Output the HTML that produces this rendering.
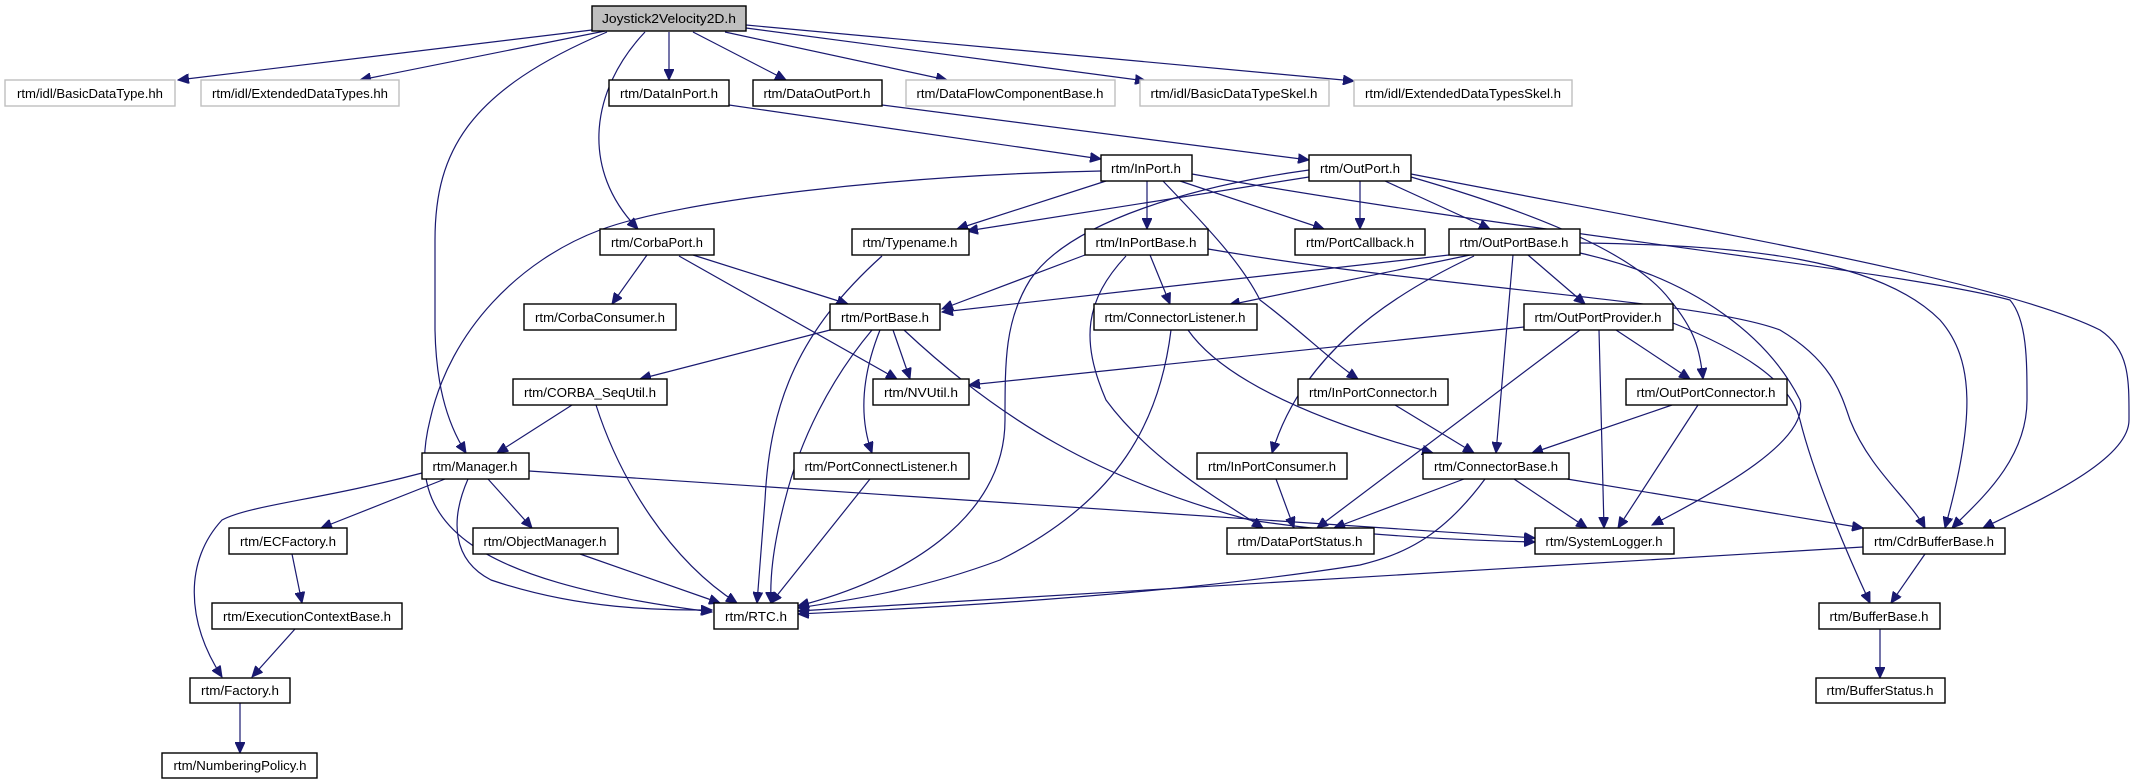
<!DOCTYPE html>
<html><head><meta charset="utf-8"><style>
html,body{margin:0;padding:0;background:#fff;width:2135px;height:784px;overflow:hidden}
svg{display:block}
text{font-family:"Liberation Sans",sans-serif;font-size:13px;fill:#000}
.e{fill:none;stroke:#191970;stroke-width:1.2}
</style></head><body>
<svg width="2135" height="784" viewBox="0 0 2135 784" xmlns="http://www.w3.org/2000/svg">
<defs><marker id="a" markerUnits="userSpaceOnUse" markerWidth="12" markerHeight="10" refX="11" refY="5" orient="auto"><path d="M0,0 L11,5 L0,10 z" fill="#191970" stroke="#191970"/></marker></defs>
<g marker-end="url(#a)">
<path class="e" d="M592,30 L178,80"/>
<path class="e" d="M605,31 L360,80"/>
<path class="e" d="M607,32 C470,90 435,150 435,240 L435,330 C436,380 445,420 466,453"/>
<path class="e" d="M645,32 C590,90 580,170 638,229"/>
<path class="e" d="M669,32 L669,80"/>
<path class="e" d="M693,32 L786,80"/>
<path class="e" d="M725,32 L947,80"/>
<path class="e" d="M746,28 L1146,81"/>
<path class="e" d="M746,25 L1354,81"/>
<path class="e" d="M729,105 L1101,159"/>
<path class="e" d="M882,105 L1309,160"/>
<path class="e" d="M1101,171 C900,175 680,200 600,230 C520,260 450,330 430,420 C405,520 460,580 712,612"/>
<path class="e" d="M1106,181 L957,229"/>
<path class="e" d="M1147,181 L1147,229"/>
<path class="e" d="M1180,181 L1324,229"/>
<path class="e" d="M1163,181 C1200,220 1240,260 1260,300 C1300,330 1330,360 1358,379"/>
<path class="e" d="M1192,174 C1500,230 1900,270 2010,300 C2027,320 2027,360 2027,400 C2027,460 1980,500 1952,528"/>
<path class="e" d="M1309,177 L967,231"/>
<path class="e" d="M1309,170 C1200,185 1070,220 1030,280 C1005,320 1005,360 1005,420 C1005,520 900,580 798,606"/>
<path class="e" d="M1360,181 L1360,229"/>
<path class="e" d="M1385,181 L1490,229"/>
<path class="e" d="M1411,177 C1560,220 1640,260 1670,300 C1695,330 1700,350 1703,379"/>
<path class="e" d="M1411,174 C1700,230 2000,280 2100,330 C2130,350 2129,380 2129,420 C2129,460 2040,500 1983,528"/>
<path class="e" d="M1085,255 L942,309"/>
<path class="e" d="M1150,255 L1170,304"/>
<path class="e" d="M1126,256 C1085,300 1080,340 1106,400 C1150,460 1220,500 1263,528"/>
<path class="e" d="M1208,249 C1450,290 1700,300 1780,330 C1830,360 1840,390 1850,420 C1870,470 1910,500 1925,528"/>
<path class="e" d="M647,255 L612,304"/>
<path class="e" d="M693,255 L848,304"/>
<path class="e" d="M679,256 L897,379"/>
<path class="e" d="M882,256 C800,330 770,400 765,500 L757,603"/>
<path class="e" d="M1449,255 L942,312"/>
<path class="e" d="M1470,255 L1229,305"/>
<path class="e" d="M1513,255 L1496,453"/>
<path class="e" d="M1528,255 L1585,304"/>
<path class="e" d="M1474,256 C1380,300 1300,360 1272,453"/>
<path class="e" d="M1580,253 C1700,280 1770,340 1800,400 C1810,440 1720,490 1652,525"/>
<path class="e" d="M1580,243 C1750,245 1880,260 1940,320 C1975,360 1975,420 1945,528"/>
<path class="e" d="M830,330 L640,379"/>
<path class="e" d="M893,330 L910,379"/>
<path class="e" d="M872,330 C830,380 800,440 785,500 C772,550 770,580 771,603"/>
<path class="e" d="M880,330 C860,380 860,420 872,453"/>
<path class="e" d="M904,330 C1000,420 1100,480 1250,520 C1350,535 1450,540 1535,542"/>
<path class="e" d="M1171,330 C1160,420 1120,500 1000,560 C920,590 850,600 798,608"/>
<path class="e" d="M1188,330 C1230,390 1350,430 1433,453"/>
<path class="e" d="M1524,327 L969,385"/>
<path class="e" d="M1580,330 L1317,528"/>
<path class="e" d="M1599,330 L1604,528"/>
<path class="e" d="M1616,330 L1690,379"/>
<path class="e" d="M1673,323 C1740,350 1790,380 1800,420 C1815,480 1850,560 1870,603"/>
<path class="e" d="M572,405 L497,453"/>
<path class="e" d="M596,405 C620,480 670,560 737,603"/>
<path class="e" d="M1395,405 L1474,453"/>
<path class="e" d="M1672,405 L1532,453"/>
<path class="e" d="M1698,405 L1618,528"/>
<path class="e" d="M422,473 C320,500 250,505 222,520 C185,560 185,620 222,677"/>
<path class="e" d="M445,479 L321,528"/>
<path class="e" d="M468,479 C450,520 452,560 491,580 C580,610 660,610 712,610"/>
<path class="e" d="M488,479 L532,528"/>
<path class="e" d="M529,471 L1535,538"/>
<path class="e" d="M580,554 L720,603"/>
<path class="e" d="M292,554 L302,603"/>
<path class="e" d="M295,629 L252,677"/>
<path class="e" d="M240,703 L240,753"/>
<path class="e" d="M870,479 L771,603"/>
<path class="e" d="M1276,479 L1294,528"/>
<path class="e" d="M1464,479 L1334,528"/>
<path class="e" d="M1485,479 C1440,540 1400,555 1360,565 C1200,590 1000,605 798,614"/>
<path class="e" d="M1514,479 L1587,528"/>
<path class="e" d="M1567,479 L1863,528"/>
<path class="e" d="M1863,547 L798,611"/>
<path class="e" d="M1925,554 L1891,603"/>
<path class="e" d="M1880,629 L1880,678"/>
</g>
<g stroke-width="1.4">
<rect x="592" y="6" width="154" height="25" fill="#bfbfbf" stroke="#000"/><text x="669" y="23" text-anchor="middle" textLength="134" lengthAdjust="spacingAndGlyphs">Joystick2Velocity2D.h</text>
<rect x="5" y="80" width="170" height="26" fill="#fff" stroke="#bfbfbf"/><text x="90" y="98" text-anchor="middle" textLength="146" lengthAdjust="spacingAndGlyphs">rtm/idl/BasicDataType.hh</text>
<rect x="201" y="80" width="198" height="26" fill="#fff" stroke="#bfbfbf"/><text x="300" y="98" text-anchor="middle" textLength="176" lengthAdjust="spacingAndGlyphs">rtm/idl/ExtendedDataTypes.hh</text>
<rect x="609" y="80" width="120" height="26" fill="#fff" stroke="#000"/><text x="669" y="98" text-anchor="middle" textLength="98" lengthAdjust="spacingAndGlyphs">rtm/DataInPort.h</text>
<rect x="753" y="80" width="129" height="26" fill="#fff" stroke="#000"/><text x="817" y="98" text-anchor="middle" textLength="107" lengthAdjust="spacingAndGlyphs">rtm/DataOutPort.h</text>
<rect x="906" y="80" width="209" height="26" fill="#fff" stroke="#bfbfbf"/><text x="1010" y="98" text-anchor="middle" textLength="187" lengthAdjust="spacingAndGlyphs">rtm/DataFlowComponentBase.h</text>
<rect x="1140" y="80" width="189" height="26" fill="#fff" stroke="#bfbfbf"/><text x="1234" y="98" text-anchor="middle" textLength="167" lengthAdjust="spacingAndGlyphs">rtm/idl/BasicDataTypeSkel.h</text>
<rect x="1354" y="80" width="218" height="26" fill="#fff" stroke="#bfbfbf"/><text x="1463" y="98" text-anchor="middle" textLength="196" lengthAdjust="spacingAndGlyphs">rtm/idl/ExtendedDataTypesSkel.h</text>
<rect x="1101" y="155" width="91" height="26" fill="#fff" stroke="#000"/><text x="1146" y="173" text-anchor="middle" textLength="70" lengthAdjust="spacingAndGlyphs">rtm/InPort.h</text>
<rect x="1309" y="155" width="102" height="26" fill="#fff" stroke="#000"/><text x="1360" y="173" text-anchor="middle" textLength="80" lengthAdjust="spacingAndGlyphs">rtm/OutPort.h</text>
<rect x="600" y="229" width="114" height="26" fill="#fff" stroke="#000"/><text x="657" y="247" text-anchor="middle" textLength="92" lengthAdjust="spacingAndGlyphs">rtm/CorbaPort.h</text>
<rect x="852" y="229" width="117" height="26" fill="#fff" stroke="#000"/><text x="910" y="247" text-anchor="middle" textLength="95" lengthAdjust="spacingAndGlyphs">rtm/Typename.h</text>
<rect x="1085" y="229" width="123" height="26" fill="#fff" stroke="#000"/><text x="1146" y="247" text-anchor="middle" textLength="101" lengthAdjust="spacingAndGlyphs">rtm/InPortBase.h</text>
<rect x="1295" y="229" width="130" height="26" fill="#fff" stroke="#000"/><text x="1360" y="247" text-anchor="middle" textLength="108" lengthAdjust="spacingAndGlyphs">rtm/PortCallback.h</text>
<rect x="1449" y="229" width="131" height="26" fill="#fff" stroke="#000"/><text x="1514" y="247" text-anchor="middle" textLength="109" lengthAdjust="spacingAndGlyphs">rtm/OutPortBase.h</text>
<rect x="524" y="304" width="152" height="26" fill="#fff" stroke="#000"/><text x="600" y="322" text-anchor="middle" textLength="130" lengthAdjust="spacingAndGlyphs">rtm/CorbaConsumer.h</text>
<rect x="830" y="304" width="110" height="26" fill="#fff" stroke="#000"/><text x="885" y="322" text-anchor="middle" textLength="88" lengthAdjust="spacingAndGlyphs">rtm/PortBase.h</text>
<rect x="1094" y="304" width="163" height="26" fill="#fff" stroke="#000"/><text x="1175" y="322" text-anchor="middle" textLength="141" lengthAdjust="spacingAndGlyphs">rtm/ConnectorListener.h</text>
<rect x="1524" y="304" width="149" height="26" fill="#fff" stroke="#000"/><text x="1598" y="322" text-anchor="middle" textLength="127" lengthAdjust="spacingAndGlyphs">rtm/OutPortProvider.h</text>
<rect x="513" y="379" width="154" height="26" fill="#fff" stroke="#000"/><text x="590" y="397" text-anchor="middle" textLength="132" lengthAdjust="spacingAndGlyphs">rtm/CORBA_SeqUtil.h</text>
<rect x="873" y="379" width="96" height="26" fill="#fff" stroke="#000"/><text x="921" y="397" text-anchor="middle" textLength="74" lengthAdjust="spacingAndGlyphs">rtm/NVUtil.h</text>
<rect x="1298" y="379" width="150" height="26" fill="#fff" stroke="#000"/><text x="1373" y="397" text-anchor="middle" textLength="128" lengthAdjust="spacingAndGlyphs">rtm/InPortConnector.h</text>
<rect x="1626" y="379" width="161" height="26" fill="#fff" stroke="#000"/><text x="1706" y="397" text-anchor="middle" textLength="139" lengthAdjust="spacingAndGlyphs">rtm/OutPortConnector.h</text>
<rect x="422" y="453" width="107" height="26" fill="#fff" stroke="#000"/><text x="475" y="471" text-anchor="middle" textLength="85" lengthAdjust="spacingAndGlyphs">rtm/Manager.h</text>
<rect x="794" y="453" width="175" height="26" fill="#fff" stroke="#000"/><text x="881" y="471" text-anchor="middle" textLength="153" lengthAdjust="spacingAndGlyphs">rtm/PortConnectListener.h</text>
<rect x="1197" y="453" width="150" height="26" fill="#fff" stroke="#000"/><text x="1272" y="471" text-anchor="middle" textLength="128" lengthAdjust="spacingAndGlyphs">rtm/InPortConsumer.h</text>
<rect x="1423" y="453" width="146" height="26" fill="#fff" stroke="#000"/><text x="1496" y="471" text-anchor="middle" textLength="124" lengthAdjust="spacingAndGlyphs">rtm/ConnectorBase.h</text>
<rect x="229" y="528" width="118" height="26" fill="#fff" stroke="#000"/><text x="288" y="546" text-anchor="middle" textLength="96" lengthAdjust="spacingAndGlyphs">rtm/ECFactory.h</text>
<rect x="473" y="528" width="145" height="26" fill="#fff" stroke="#000"/><text x="545" y="546" text-anchor="middle" textLength="123" lengthAdjust="spacingAndGlyphs">rtm/ObjectManager.h</text>
<rect x="1227" y="528" width="147" height="26" fill="#fff" stroke="#000"/><text x="1300" y="546" text-anchor="middle" textLength="125" lengthAdjust="spacingAndGlyphs">rtm/DataPortStatus.h</text>
<rect x="1535" y="528" width="139" height="26" fill="#fff" stroke="#000"/><text x="1604" y="546" text-anchor="middle" textLength="117" lengthAdjust="spacingAndGlyphs">rtm/SystemLogger.h</text>
<rect x="1863" y="528" width="142" height="26" fill="#fff" stroke="#000"/><text x="1934" y="546" text-anchor="middle" textLength="120" lengthAdjust="spacingAndGlyphs">rtm/CdrBufferBase.h</text>
<rect x="212" y="603" width="190" height="26" fill="#fff" stroke="#000"/><text x="307" y="621" text-anchor="middle" textLength="168" lengthAdjust="spacingAndGlyphs">rtm/ExecutionContextBase.h</text>
<rect x="714" y="603" width="84" height="26" fill="#fff" stroke="#000"/><text x="756" y="621" text-anchor="middle" textLength="62" lengthAdjust="spacingAndGlyphs">rtm/RTC.h</text>
<rect x="1819" y="603" width="121" height="26" fill="#fff" stroke="#000"/><text x="1879" y="621" text-anchor="middle" textLength="99" lengthAdjust="spacingAndGlyphs">rtm/BufferBase.h</text>
<rect x="190" y="678" width="100" height="25" fill="#fff" stroke="#000"/><text x="240" y="695" text-anchor="middle" textLength="78" lengthAdjust="spacingAndGlyphs">rtm/Factory.h</text>
<rect x="1816" y="678" width="129" height="25" fill="#fff" stroke="#000"/><text x="1880" y="695" text-anchor="middle" textLength="107" lengthAdjust="spacingAndGlyphs">rtm/BufferStatus.h</text>
<rect x="162" y="753" width="155" height="25" fill="#fff" stroke="#000"/><text x="240" y="770" text-anchor="middle" textLength="133" lengthAdjust="spacingAndGlyphs">rtm/NumberingPolicy.h</text>
</g>
</svg>
</body></html>
